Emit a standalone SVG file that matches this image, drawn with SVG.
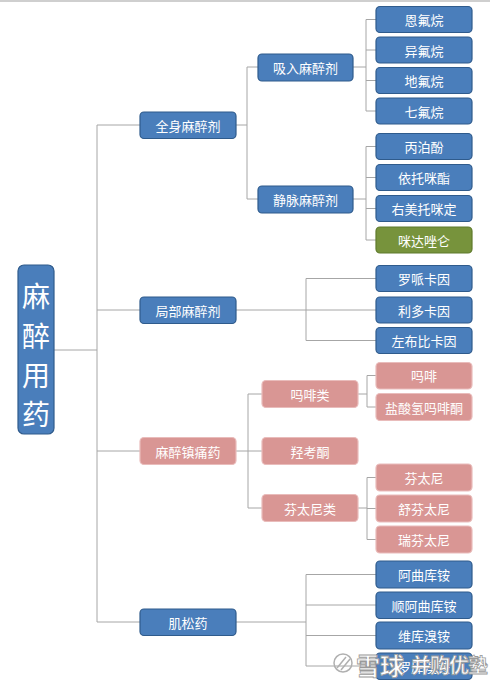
<svg xmlns="http://www.w3.org/2000/svg" width="490" height="684" viewBox="0 0 490 684">
<style>
text{font-family:"Noto Sans CJK SC","Liberation Sans",sans-serif;fill:#ffffff;text-anchor:middle;dominant-baseline:central;font-size:13px}
.b{fill:#4a7ebb;stroke:#2f5b8c;stroke-width:1.2}
.p{fill:#d99694;stroke:#e9bcbb;stroke-width:1.2}
.g{fill:#77933c;stroke:#5f7a2c;stroke-width:1.2}
.c path{fill:none;stroke:#a6a6a6;stroke-width:1}
.r{font-size:28px}
.wm{font-size:24px;fill:#ffffff;stroke:#9a9a9a;stroke-width:0.8;text-anchor:start;font-weight:bold}
</style>
<rect x="0" y="0" width="490" height="684" fill="#ffffff"/>
<rect x="0" y="0" width="490" height="2" fill="#cfcfcf"/>
<g class="c">
<path d="M54 350H97M97 125V622M97 125H140M97 310H140M97 451H140M97 622H140"/>
<path d="M236 125H247M247 67V199M247 67H258M247 199H258"/>
<path d="M353 67H366M366 19.5V111M366 19.5H376M366 50H376M366 80.5H376M366 111H376"/>
<path d="M353 199H366M366 146.5V240M366 146.5H376M366 177.5H376M366 208.5H376M366 240H376"/>
<path d="M236 310H376M306 278.5V340.5M306 278.5H376M306 340.5H376"/>
<path d="M236 451H262M248 394V508M248 394H262M248 508H262"/>
<path d="M358 394H367M367 375.5V407M367 375.5H376M367 407H376"/>
<path d="M358 508H367M367 477.5V539.5M367 477.5H376M367 508.5H376M367 539.5H376"/>
<path d="M236 622H306M306 574.5V666M306 574.5H376M306 605H376M306 635.5H376M306 666H376"/>
</g>
<g id="root"><rect class="b" x="18" y="265" width="36" height="169" rx="6"/>
<text class="r" x="36" y="295">麻</text><text class="r" x="36" y="335">醉</text><text class="r" x="36" y="374">用</text><text class="r" x="36" y="413">药</text></g>
<g id="n_quanshen"><rect class="b" x="140" y="112" width="96" height="26.5" rx="4"/><text x="188" y="125.5">全身麻醉剂</text></g>
<g id="n_jubu"><rect class="b" x="140" y="297" width="96" height="26.5" rx="4"/><text x="188" y="310">局部麻醉剂</text></g>
<g id="n_zhentong"><rect class="p" x="140" y="437.5" width="96" height="27" rx="4"/><text x="188" y="451">麻醉镇痛药</text></g>
<g id="n_jisong"><rect class="b" x="140" y="609" width="96" height="26.5" rx="4"/><text x="188" y="622.5">肌松药</text></g>
<g id="n_xiru"><rect class="b" x="258" y="54" width="95" height="27" rx="4"/><text x="305.5" y="67.5">吸入麻醉剂</text></g>
<g id="n_jingmai"><rect class="b" x="258" y="186" width="95" height="27" rx="4"/><text x="305.5" y="199.5">静脉麻醉剂</text></g>
<g id="n_mafeilei"><rect class="p" x="262" y="380.5" width="96" height="27" rx="4"/><text x="310" y="394">吗啡类</text></g>
<g id="n_qiangkaotong"><rect class="p" x="262" y="437.5" width="96" height="27" rx="4"/><text x="310" y="451">羟考酮</text></g>
<g id="n_fentanilei"><rect class="p" x="262" y="494.5" width="96" height="27" rx="4"/><text x="310" y="508">芬太尼类</text></g>
<g id="l1"><rect class="b" x="376" y="6.5" width="96" height="26" rx="4"/><text x="424" y="19.5">恩氟烷</text></g>
<g id="l2"><rect class="b" x="376" y="37" width="96" height="26" rx="4"/><text x="424" y="50">异氟烷</text></g>
<g id="l3"><rect class="b" x="376" y="67.5" width="96" height="26" rx="4"/><text x="424" y="80.5">地氟烷</text></g>
<g id="l4"><rect class="b" x="376" y="98" width="96" height="26" rx="4"/><text x="424" y="111">七氟烷</text></g>
<g id="l5"><rect class="b" x="376" y="133.5" width="96" height="26" rx="4"/><text x="424" y="146.5">丙泊酚</text></g>
<g id="l6"><rect class="b" x="376" y="164.5" width="96" height="26" rx="4"/><text x="424" y="177.5">依托咪酯</text></g>
<g id="l7"><rect class="b" x="376" y="195.5" width="96" height="26" rx="4"/><text x="424" y="208.5">右美托咪定</text></g>
<g id="l8"><rect class="g" x="376" y="227" width="96" height="26" rx="4"/><text x="424" y="240">咪达唑仑</text></g>
<g id="l9"><rect class="b" x="376" y="265.5" width="96" height="26" rx="4"/><text x="424" y="278.5">罗哌卡因</text></g>
<g id="l10"><rect class="b" x="376" y="297" width="96" height="26" rx="4"/><text x="424" y="310">利多卡因</text></g>
<g id="l11"><rect class="b" x="376" y="327.5" width="96" height="26" rx="4"/><text x="424" y="340.5">左布比卡因</text></g>
<g id="l12"><rect class="p" x="376" y="362.5" width="96" height="26.5" rx="4"/><text x="424" y="375.5">吗啡</text></g>
<g id="l13"><rect class="p" x="376" y="393.5" width="96" height="27" rx="4"/><text x="424" y="407">盐酸氢吗啡酮</text></g>
<g id="l14"><rect class="p" x="376" y="464" width="96" height="27" rx="4"/><text x="424" y="477.5">芬太尼</text></g>
<g id="l15"><rect class="p" x="376" y="495" width="96" height="27" rx="4"/><text x="424" y="508.5">舒芬太尼</text></g>
<g id="l16"><rect class="p" x="376" y="526" width="96" height="27" rx="4"/><text x="424" y="539.5">瑞芬太尼</text></g>
<g id="l17"><rect class="b" x="376" y="561" width="96" height="27" rx="4"/><text x="424" y="574.5">阿曲库铵</text></g>
<g id="l18"><rect class="b" x="376" y="592" width="96" height="26.5" rx="4"/><text x="424" y="605">顺阿曲库铵</text></g>
<g id="l19"><rect class="b" x="376" y="622" width="96" height="27" rx="4"/><text x="424" y="635.5">维库溴铵</text></g>
<g id="l20"><rect class="b" x="376" y="653" width="96" height="26.5" rx="4"/><text x="424" y="666">罗库溴铵</text></g>
<g id="watermark">
<circle cx="343" cy="663" r="9" fill="none" stroke="#b0b0b0" stroke-width="1.5"/>
<path d="M337 668L346 657M341 670L350 659" fill="none" stroke="#b0b0b0" stroke-width="1.5"/>
<text class="wm" x="356" y="664">雪球</text>
<text class="wm" x="411" y="664" style="font-size:20px;letter-spacing:-1px">并购优塾</text>
</g>
</svg>
